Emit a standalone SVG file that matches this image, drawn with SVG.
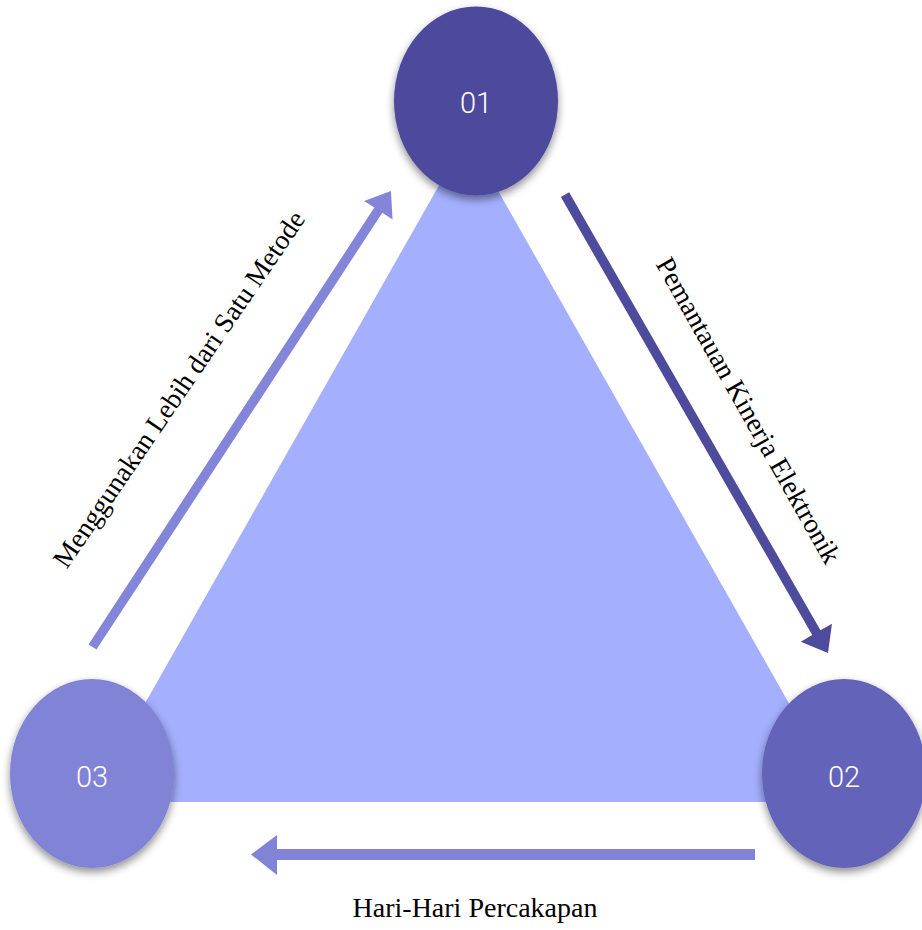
<svg xmlns="http://www.w3.org/2000/svg" width="922" height="930" viewBox="0 0 922 930">
  <defs>
    <filter id="shadow" x="-20%" y="-20%" width="140%" height="150%">
      <feDropShadow dx="0" dy="4" stdDeviation="4" flood-color="#000" flood-opacity="0.45"/>
    </filter>
    <style>
      .num { font-family: Roboto, "Liberation Sans", sans-serif; font-weight: 300; font-size: 29px; fill: #ffffff; text-anchor: middle; }
      .lbl { font-family: "Liberation Serif", "Times New Roman", serif; font-size: 27.5px; fill: #000000; text-anchor: middle; }
      .lblb { font-family: "Liberation Serif", "Times New Roman", serif; font-size: 28px; fill: #000000; text-anchor: middle; }
    </style>
  </defs>
  <rect width="922" height="930" fill="#ffffff"/>

  <g id="triangle">
    <polygon points="467,136 89,802 845,802" fill="#A4AFFE"/>
  </g>

  <g id="node-01">
    <ellipse cx="476" cy="101" rx="82" ry="94.5" fill="#4E4A9C" filter="url(#shadow)"/>
    <text class="num" x="476" y="113">01</text>
  </g>
  <g id="node-02">
    <ellipse cx="844" cy="773.5" rx="82" ry="94.5" fill="#6463BA" filter="url(#shadow)"/>
    <text class="num" x="844" y="787">02</text>
  </g>
  <g id="node-03">
    <ellipse cx="92" cy="773.5" rx="82" ry="94.5" fill="#8083D6" filter="url(#shadow)"/>
    <text class="num" x="92" y="786.5">03</text>
  </g>

  <g id="connectors">
    <path d="M0,-4.75 L522,-4.75 L522,-17 L545,0 L522,17 L522,4.75 L0,4.75 Z" fill="#8285D8" transform="translate(92.5,647) rotate(-56.8)"/>
    <path d="M0,-4.75 L505,-4.75 L505,-18 L528.4,0 L505,18 L505,4.75 L0,4.75 Z" fill="#4E4A9C" transform="translate(565,194.7) rotate(60.15)"/>
    <path d="M755,849 L277,849 L277,835 L251,854.5 L277,875 L277,860 L755,860 Z" fill="#8083D6"/>
  </g>

  <g id="labels">
    <text class="lbl" transform="translate(186.5,394.4) rotate(-55.7)">Menggunakan Lebih dari Satu Metode</text>
    <text class="lbl" transform="translate(740.5,414.9) rotate(60.5)">Pemantauan Kinerja Elektronik</text>
    <text class="lblb" x="475" y="917">Hari-Hari Percakapan</text>
  </g>
</svg>
